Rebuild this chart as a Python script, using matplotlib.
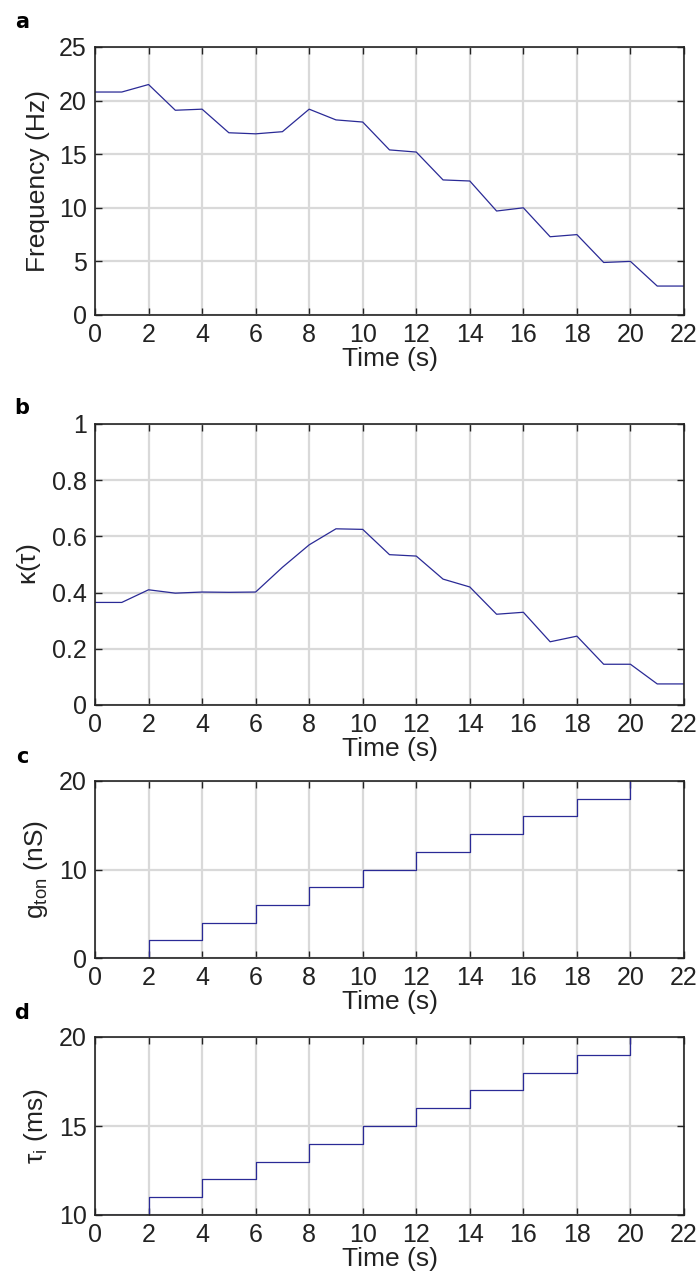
import matplotlib
matplotlib.use('Agg')
import matplotlib.pyplot as plt
from matplotlib.ticker import FuncFormatter

# data
t = list(range(23))
freq = [20.8, 20.8, 21.5, 19.1, 19.2, 17.0, 16.9, 17.1, 19.2, 18.2, 18.0, 15.4,
        15.2, 12.6, 12.5, 9.7, 10.0, 7.3, 7.5, 4.9, 5.0, 2.7, 2.7]
kappa = [0.365, 0.365, 0.41, 0.398, 0.402, 0.401, 0.402, 0.49, 0.57, 0.627, 0.625,
         0.535, 0.53, 0.448, 0.42, 0.323, 0.33, 0.225, 0.245, 0.145, 0.145, 0.075, 0.075]
t_step = [0, 2, 4, 6, 8, 10, 12, 14, 16, 18, 20]
g_ton = [0, 2, 4, 6, 8, 10, 12, 14, 16, 18, 20]
tau_i = [10, 11, 12, 13, 14, 15, 16, 17, 18, 19, 20]

W, H = 698, 1279
fig = plt.figure(figsize=(W / 100, H / 100), dpi=100)
fig.patch.set_facecolor('white')

font = ['Liberation Sans', 'DejaVu Sans']
plt.rcParams['mathtext.fontset'] = 'custom'
plt.rcParams['mathtext.rm'] = 'Liberation Sans'
plt.rcParams['mathtext.it'] = 'Liberation Sans:italic'
line_c = '#2a2a96'
txt_c = '#222222'

def px_axes(top, bottom, left=95, right=684):
    return fig.add_axes([left / W, 1 - bottom / H, (right - left) / W, (bottom - top) / H])

def style(ax, yticks, ylim, ylabel, fmt=None):
    ax.set_xlim(0, 22)
    ax.set_ylim(*ylim)
    ax.set_xticks(range(0, 23, 2))
    ax.set_yticks(yticks)
    if fmt:
        ax.yaxis.set_major_formatter(FuncFormatter(fmt))
    ax.grid(True, color='#d9d9d9', lw=1.6)
    ax.set_axisbelow(True)
    ax.tick_params(direction='in', length=5, width=1, top=True, right=True,
                   labelsize=18, pad=6, colors=txt_c)
    for lab in ax.get_xticklabels() + ax.get_yticklabels():
        lab.set_family(font)
    for s in ax.spines.values():
        s.set_color(txt_c)
        s.set_linewidth(1.2)
    ax.set_xlabel('Time (s)', fontsize=19, family=font, color=txt_c, labelpad=0)
    ax.set_ylabel(ylabel, fontsize=19, family=font, color=txt_c, labelpad=6)

# a
ax = px_axes(47, 315)
ax.plot(t, freq, color=line_c, lw=0.9)
style(ax, [0, 5, 10, 15, 20, 25], (0, 25), 'Frequency (Hz)')
fig.text(22 / W, 1 - 22 / H, 'a', fontsize=15, fontweight='bold', ha='center', va='center')

# b
ax = px_axes(424, 705)
ax.plot(t, kappa, color=line_c, lw=0.9)
style(ax, [0, 0.2, 0.4, 0.6, 0.8, 1.0], (0, 1), r'$\mathregular{\kappa(\tau)}$',
      fmt=lambda v, p: '%g' % v)
fig.text(22 / W, 1 - 408 / H, 'b', fontsize=15, fontweight='bold', ha='center', va='center')

# c
ax = px_axes(781, 958)
ax.plot(t_step, g_ton, color=line_c, lw=0.9, drawstyle='steps-post')
style(ax, [0, 10, 20], (0, 20), r'$\mathregular{g_{ton}}$ (nS)')
fig.text(22 / W, 1 - 757 / H, 'c', fontsize=15, fontweight='bold', ha='center', va='center')

# d
ax = px_axes(1037, 1215)
ax.plot(t_step, tau_i, color=line_c, lw=0.9, drawstyle='steps-post')
style(ax, [10, 15, 20], (10, 20), r'$\mathregular{\tau_i}$ (ms)')
fig.text(22 / W, 1 - 1013 / H, 'd', fontsize=15, fontweight='bold', ha='center', va='center')

fig.savefig('out.png', dpi=100, facecolor='white')
